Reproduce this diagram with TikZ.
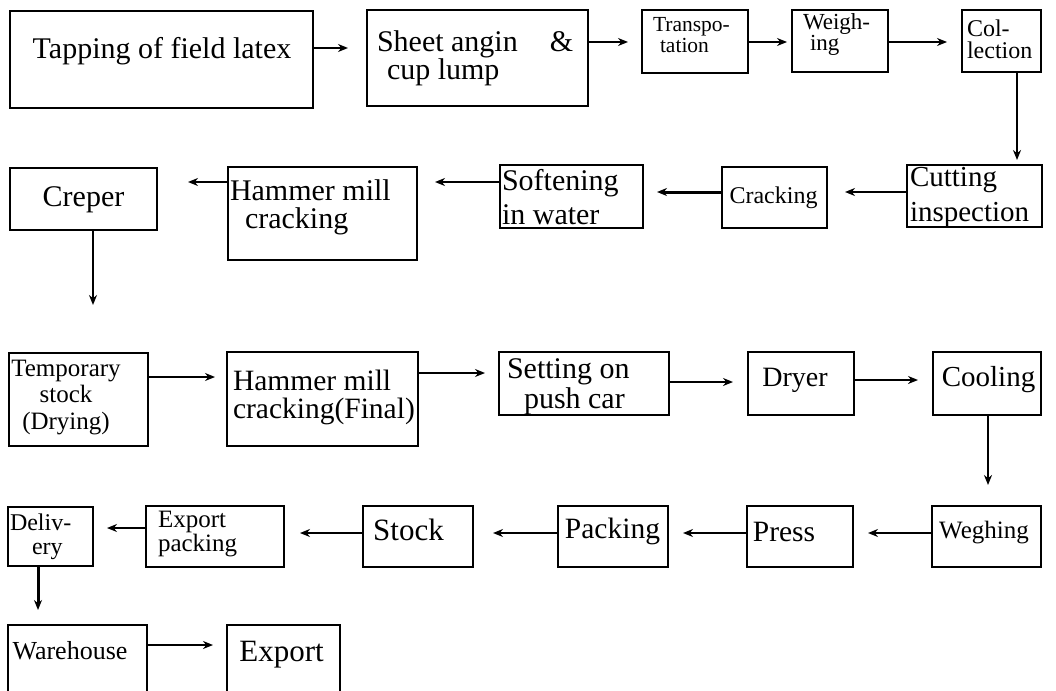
\documentclass[tikz,border=0pt]{standalone}
\usepackage{fontspec}
\setmainfont{Liberation Serif}
\usetikzlibrary{arrows.meta}
% exact line spacing inside the multi-line labels
\lineskiplimit=-100pt
\newcommand\fsz[2]{\fontsize{#1}{#2}\selectfont}
% \flowbox{name}{x1}{y1}{x2}{y2}: an empty process box with the given corners
\newcommand\flowbox[5]{%
  \pgfmathsetmacro\fbw{#4-#2}%
  \pgfmathsetmacro\fbh{#5-#3}%
  \node[stepbox, minimum width=\fbw pt, minimum height=\fbh pt] (#1) at ({(#2+#4)/2},{(#3+#5)/2}) {};}
\tikzset{
  stepbox/.style={draw, line width=2.2pt, rectangle, inner sep=0pt, outer sep=0pt},
  lbl/.style={inner sep=0pt, outer sep=0pt},
  flow/.style={line width=2pt, -{Stealth[length=10pt, width=8pt]}},
  heavyflow/.style={flow, line width=3pt},
}
\begin{document}
\begin{tikzpicture}[x=1pt, y=-1pt]
\useasboundingbox (0,0) rectangle (1056,690);
\fill[white] (0,0) rectangle (1056,690);
\clip (0,0) rectangle (1056,690);

% ---- row 1 ----
\flowbox{tap}{10}{11}{313}{108}
\flowbox{sheet}{367}{10}{588}{106}
\flowbox{trans}{642}{10}{748}{73}
\flowbox{weigh}{792}{10}{888}{72}
\flowbox{coll}{962}{10}{1041}{72}
% ---- row 2 ----
\flowbox{creper}{10}{168}{157}{230}
\flowbox{hamone}{228}{167}{417}{260}
\flowbox{soft}{500}{165}{643}{228}
\flowbox{crack}{722}{167}{827}{228}
\flowbox{cut}{907}{165}{1042}{227}
% ---- row 3 ----
\flowbox{temp}{9}{353}{148}{446}
\flowbox{hamtwo}{227}{352}{418}{446}
\flowbox{setting}{499}{352}{669}{415}
\flowbox{dryer}{748}{352}{854}{415}
\flowbox{cool}{933}{352}{1041}{415}
% ---- row 4 ----
\flowbox{deliv}{8}{507}{93}{566}
\flowbox{exppack}{146}{506}{284}{567}
\flowbox{stock}{363}{506}{473}{567}
\flowbox{packing}{558}{506}{668}{567}
\flowbox{press}{747}{506}{853}{567}
\flowbox{wegh}{932}{506}{1041}{567}
% ---- row 5 ----
\flowbox{ware}{8}{625}{147}{700}
\flowbox{export}{227}{625}{340}{700}

% ---- labels ----
\node[lbl, font=\fsz{30}{34}] (tap-t) at (162,51) {Tapping of field latex};
\node[lbl, font=\fsz{30}{28}, align=left, anchor=west] (sheet-t) at (377,58)
  {Sheet angin\hspace*{32pt}\&\\\hspace*{10pt}cup lump};
\node[lbl, font=\fsz{21.5}{21}, align=left, anchor=west] (trans-t) at (653,35.5)
  {Transpo-\\\hspace*{7pt}tation};
\node[lbl, font=\fsz{23}{21.5}, align=left, anchor=west] (weigh-t) at (803,34.5)
  {Weigh-\\\hspace*{7pt}ing};
\node[lbl, font=\fsz{24}{22}, align=left, anchor=west] (coll-t) at (967,39)
  {Col-\\lection};

\node[lbl, font=\fsz{30}{34}] (creper-t) at (83.5,200) {Creper};
\node[lbl, font=\fsz{30}{28}, align=left, anchor=west] (hamone-t) at (230,207.5)
  {Hammer mill\\\hspace*{15pt}cracking};
\node[lbl, font=\fsz{30}{34}, align=left, anchor=west] (soft-t) at (502,196.7)
  {Softening\\in water};
\node[lbl, font=\fsz{24}{28}] (crack-t) at (773.5,197.7) {Cracking};
\node[lbl, font=\fsz{29}{35}, align=left, anchor=west] (cut-t) at (910,197.5)
  {Cutting\\inspection};

\node[lbl, font=\fsz{25}{26.5}, align=center] (temp-t) at (66,397.5)
  {Temporary\\stock\\(Drying)};
\node[lbl, font=\fsz{29.5}{28.5}, align=left, anchor=west] (hamtwo-t) at (233,397.3)
  {Hammer mill\\cracking(Final)};
\node[lbl, font=\fsz{30}{30}, align=left, anchor=west] (setting-t) at (507,386.3)
  {Setting on\\\hspace*{17pt}push car};
\node[lbl, font=\fsz{28}{32}] (dryer-t) at (795,380.5) {Dryer};
\node[lbl, font=\fsz{29}{33}] (cool-t) at (988.5,380) {Cooling};

\node[lbl, font=\fsz{24}{23.5}, align=left, anchor=west] (deliv-t) at (10,537)
  {Deliv-\\\hspace*{22pt}ery};
\node[lbl, font=\fsz{25}{23.5}, align=left, anchor=west] (exppack-t) at (158,534)
  {Export\\packing};
\node[lbl, font=\fsz{31}{35}] (stock-t) at (408.5,529.4) {Stock};
\node[lbl, font=\fsz{29.5}{34}] (packing-t) at (612.5,531.5) {Packing};
\node[lbl, font=\fsz{29.5}{34}] (press-t) at (784,532) {Press};
\node[lbl, font=\fsz{25}{29}] (wegh-t) at (984,532.5) {Weghing};

\node[lbl, font=\fsz{26}{30}] (ware-t) at (70,651) {Warehouse};
\node[lbl, font=\fsz{31}{35}] (export-t) at (281.5,654.8) {Export};

% ---- connectors ----
\draw[flow] ([yshift=11.5pt]tap.east) -- ([xshift=-19pt,yshift=10pt]sheet.west);
\draw[flow] ([yshift=16pt]sheet.east) -- ([xshift=-14pt,yshift=-0.5pt]trans.west);
\draw[flow] ([yshift=-0.5pt]trans.east) -- ([xshift=-5pt,yshift=-1pt]weigh.west);
\draw[flow] ([yshift=-1pt]weigh.east) -- ([xshift=-15pt,yshift=-1pt]coll.west);
\draw[flow] ([xshift=15.5pt]coll.south) -- ([xshift=42.5pt,yshift=5pt]cut.north);

\draw[flow] ([yshift=4pt]cut.west) -- ([xshift=18pt,yshift=5.5pt]crack.east);
\draw[heavyflow] ([yshift=5.5pt]crack.west) -- ([xshift=14pt,yshift=4.5pt]soft.east);
\draw[flow] ([yshift=14.5pt]soft.west) -- ([xshift=18pt,yshift=31.5pt]hamone.east);
\draw[flow] ([yshift=31.5pt]hamone.west) -- ([xshift=31pt,yshift=17pt]creper.east);
\draw[flow] ([xshift=9.5pt]creper.south) -- ([xshift=14.5pt,yshift=48pt]temp.north);

\draw[flow] ([yshift=22.5pt]temp.east) -- ([xshift=-12pt,yshift=22pt]hamtwo.west);
\draw[flow] ([yshift=26pt]hamtwo.east) -- ([xshift=-14pt,yshift=10.5pt]setting.west);
\draw[flow] ([yshift=1.5pt]setting.east) -- ([xshift=-15pt,yshift=1.5pt]dryer.west);
\draw[flow] ([yshift=3.5pt]dryer.east) -- ([xshift=-15pt,yshift=3.5pt]cool.west);
\draw[flow] ([xshift=1pt]cool.south) -- ([xshift=1.5pt,yshift=21pt]wegh.north);

\draw[flow] ([yshift=3.5pt]wegh.west) -- ([xshift=15pt,yshift=3.5pt]press.east);
\draw[flow] ([yshift=3.5pt]press.west) -- ([xshift=15pt,yshift=3.5pt]packing.east);
\draw[flow] ([yshift=3.5pt]packing.west) -- ([xshift=20pt,yshift=3.5pt]stock.east);
\draw[flow] ([yshift=3.5pt]stock.west) -- ([xshift=16pt,yshift=3.5pt]exppack.east);
\draw[flow] ([yshift=8.5pt]exppack.west) -- ([xshift=14pt,yshift=8.5pt]deliv.east);
\draw[heavyflow] ([xshift=-12.5pt]deliv.south) -- ([xshift=-39.5pt,yshift=15pt]ware.north);

\draw[flow] ([yshift=17.5pt]ware.east) -- ([xshift=-14pt,yshift=17.5pt]export.west);
\end{tikzpicture}
\end{document}
